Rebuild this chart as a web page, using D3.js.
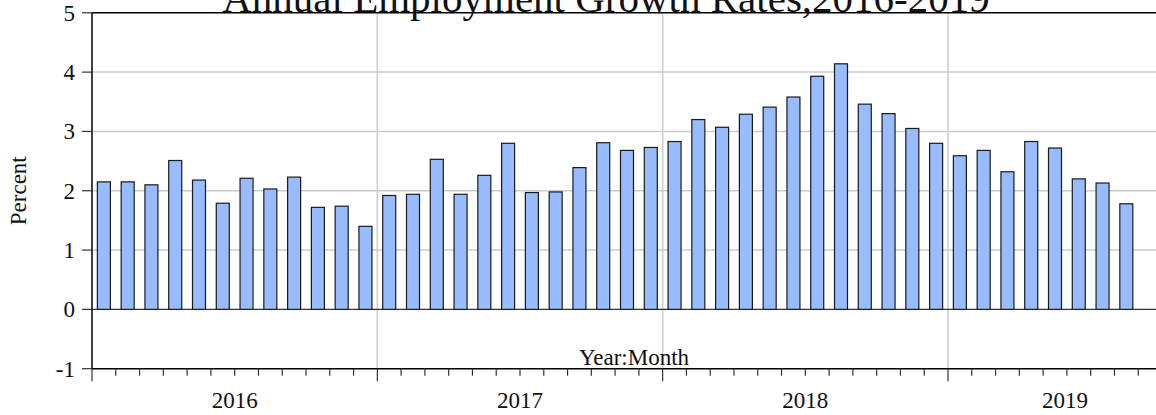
<!DOCTYPE html>
<html>
<head>
<meta charset="utf-8">
<script src="https://cdn.jsdelivr.net/npm/d3@7"></script>
<style>
  body { margin: 0; background: #fff; }
  text { font-family: "Liberation Serif", "Times New Roman", serif; fill: #111; }
</style>
</head>
<body>
<script>
// monthly annual growth rates, Jan 2016 .. Aug 2019
var years = ['2016', '2017', '2018', '2019'];
var rates2016 = [2.15, 2.15, 2.10, 2.51, 2.18, 1.79, 2.21, 2.03, 2.23, 1.72, 1.74, 1.40];
var rates2017 = [1.92, 1.94, 2.53, 1.94, 2.26, 2.80, 1.97, 1.98, 2.39, 2.81, 2.68, 2.73];
var rates2018 = [2.83, 3.20, 3.07, 3.29, 3.41, 3.58, 3.93, 4.14, 3.46, 3.30, 3.05, 2.80];
var rates2019 = [2.59, 2.68, 2.32, 2.83, 2.72, 2.20, 2.13, 1.78];
var yTicks = [-1, 0, 1, 2, 3, 4, 5];

var rates = rates2016.concat(rates2017, rates2018, rates2019);

var svgWidth = 1156;
var svgHeight = 415;

var svg = d3.select('body').append('svg')
  .attr('width', svgWidth).attr('height', svgHeight);

// plot box ("top" is taken by window.top, so use plot* names)
var plotLeft = 92, plotRight = 1182, plotTop = 12.8, plotBottom = 368.7;
var monthW = (948 - plotLeft) / 36;
var nMonths = (plotRight - plotLeft) / monthW;

var x = d3.scaleLinear().domain([0, nMonths]).range([plotLeft, plotRight]);
var y = d3.scaleLinear().domain([-1, 5]).range([plotBottom, plotTop]);

// horizontal grid
svg.selectAll('line.hgrid')
  .data([1, 2, 3, 4])
  .enter().append('line')
  .attr('x1', plotLeft).attr('x2', svgWidth)
  .attr('y1', function (d) { return y(d); })
  .attr('y2', function (d) { return y(d); })
  .attr('stroke', '#cccccc').attr('stroke-width', 1.5);

// vertical grid at year starts
svg.selectAll('line.vgrid')
  .data([1, 2, 3])
  .enter().append('line')
  .attr('x1', function (d) { return x(d * 12); })
  .attr('x2', function (d) { return x(d * 12); })
  .attr('y1', plotTop).attr('y2', plotBottom)
  .attr('stroke', '#cccccc').attr('stroke-width', 1.5);

// zero line
svg.append('line')
  .attr('x1', plotLeft).attr('x2', svgWidth)
  .attr('y1', y(0)).attr('y2', y(0))
  .attr('stroke', '#333').attr('stroke-width', 1.2);

// bars
var barW = 13;
svg.selectAll('rect.bar')
  .data(rates)
  .enter().append('rect')
  .attr('class', 'bar')
  .attr('x', function (d, i) { return x(i + 0.5) - barW / 2; })
  .attr('width', barW)
  .attr('y', function (d) { return y(d); })
  .attr('height', function (d) { return y(0) - y(d); })
  .attr('fill', '#99bbff')
  .attr('stroke', '#1a1a1a')
  .attr('stroke-width', 1.2);

// frame
svg.append('line').attr('x1', plotLeft).attr('x2', svgWidth).attr('y1', plotTop).attr('y2', plotTop)
  .attr('stroke', '#000').attr('stroke-width', 1.5);
svg.append('line').attr('x1', plotLeft).attr('x2', plotLeft).attr('y1', plotTop).attr('y2', plotBottom)
  .attr('stroke', '#000').attr('stroke-width', 1.5);
svg.append('line').attr('x1', plotLeft).attr('x2', svgWidth).attr('y1', plotBottom).attr('y2', plotBottom)
  .attr('stroke', '#000').attr('stroke-width', 1.5);

// y axis ticks + labels
svg.selectAll('line.ytick')
  .data(yTicks)
  .enter().append('line')
  .attr('x1', plotLeft - 10).attr('x2', plotLeft)
  .attr('y1', function (d) { return y(d); })
  .attr('y2', function (d) { return y(d); })
  .attr('stroke', '#333').attr('stroke-width', 1.2);

svg.selectAll('text.ylab')
  .data(yTicks)
  .enter().append('text')
  .attr('x', plotLeft - 17)
  .attr('y', function (d) { return y(d) + 7.8; })
  .attr('text-anchor', 'end')
  .style('font-size', '23px')
  .text(function (d) { return d; });

// x axis month ticks
var monthTicks = d3.range(0, Math.floor(nMonths) + 1);
svg.selectAll('line.xtick')
  .data(monthTicks)
  .enter().append('line')
  .attr('x1', function (d) { return x(d); })
  .attr('x2', function (d) { return x(d); })
  .attr('y1', plotBottom)
  .attr('y2', function (d) { return d % 12 === 0 ? plotBottom + 12.5 : plotBottom + 7; })
  .attr('stroke', '#333').attr('stroke-width', 1.2);

// year labels centred in the visible part of each year
svg.selectAll('text.year')
  .data(years)
  .enter().append('text')
  .attr('x', function (d, i) {
    var a = x(i * 12), b = Math.min(x((i + 1) * 12), plotRight);
    return (a + b) / 2;
  })
  .attr('y', 408)
  .attr('text-anchor', 'middle')
  .style('font-size', '23px')
  .text(function (d) { return d; });

svg.append('text')
  .attr('x', 634).attr('y', 365)
  .attr('text-anchor', 'middle')
  .style('font-size', '23px')
  .text('Year:Month');

svg.append('text')
  .attr('transform', 'translate(26,' + ((plotTop + plotBottom) / 2) + ') rotate(-90)')
  .attr('text-anchor', 'middle')
  .style('font-size', '23px')
  .text('Percent');

svg.append('text')
  .attr('x', 606).attr('y', 11.5)
  .attr('text-anchor', 'middle')
  .style('font-size', '41px')
  .text('Annual Employment Growth Rates,2016-2019');
</script>
</body>
</html>
